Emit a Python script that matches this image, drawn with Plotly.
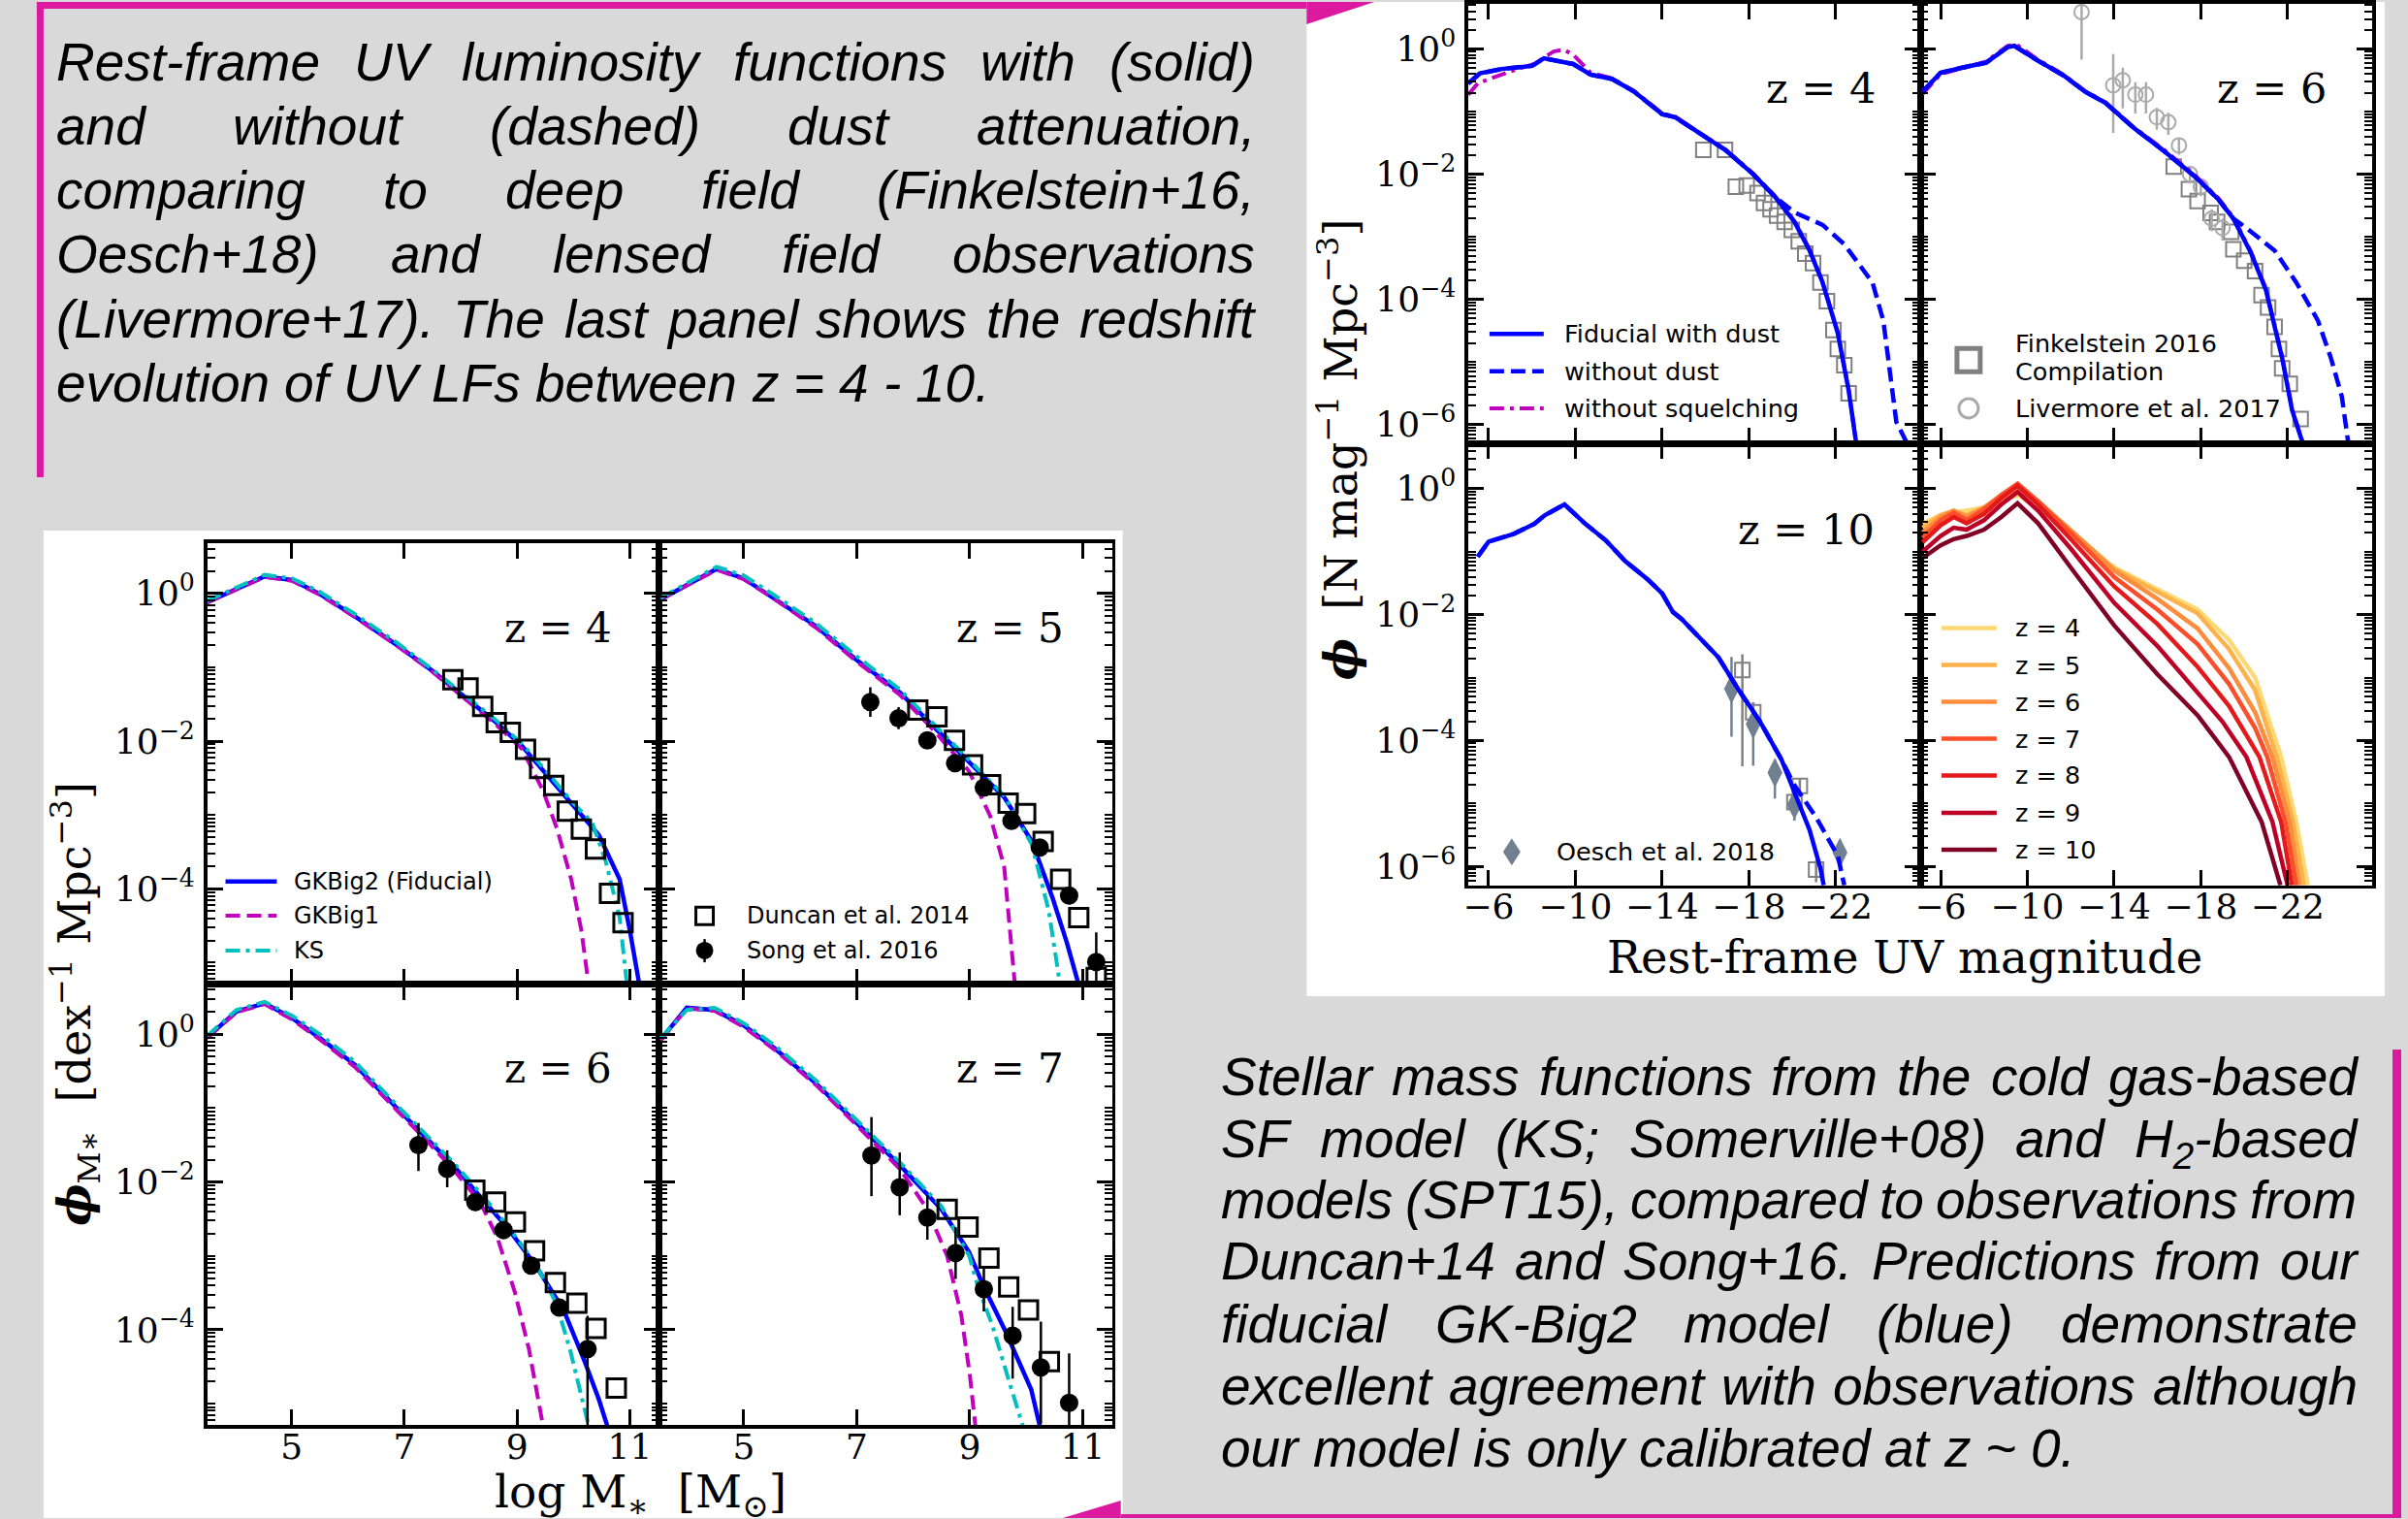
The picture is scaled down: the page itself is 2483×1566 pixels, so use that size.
import numpy as np
import plotly.graph_objects as go

W, H = 2483, 1566

# ---------------- UV luminosity functions (log10 phi) ----------------
uv4_fid_mag = [-5.06, -5.6, -6.6, -8.0, -8.55, -9.9, -10.7, -11.7, -12.7, -14.0, -14.6, -15.9, -16.9,
               -18.2, -19.2, -20.1, -20.8, -21.4, -22.1, -22.6, -22.95]
uv4_fid_log = [-0.55, -0.39, -0.32, -0.27, -0.15, -0.24, -0.41, -0.48, -0.68, -1.04, -1.09, -1.39, -1.61,
               -2.0, -2.36, -2.76, -3.22, -3.73, -4.54, -5.45, -6.3]
uv4_nodust_mag = [-5.06, -5.6, -6.6, -8.0, -8.55, -9.9, -10.7, -11.7, -12.7, -14.0, -14.6, -15.9, -16.9,
                  -18.2, -19.2, -20.1, -21.4, -22.4, -23.7, -24.2, -24.5, -24.8, -25.3]
uv4_nodust_log = [-0.55, -0.39, -0.32, -0.27, -0.15, -0.24, -0.41, -0.48, -0.68, -1.04, -1.09, -1.39, -1.61,
                  -2.0, -2.36, -2.61, -2.81, -3.12, -3.73, -4.34, -5.15, -5.96, -6.3]
uv4_nosq_mag = [-5.06, -5.5, -6.9, -8.1, -9.0, -9.45, -9.9, -10.7, -11.7, -12.7, -14.0, -14.6, -15.9,
                -16.9, -18.2, -19.2, -20.1, -20.8, -21.4, -22.1, -22.6, -22.95]
uv4_nosq_log = [-0.73, -0.55, -0.37, -0.24, -0.04, -0.01, -0.09, -0.38, -0.47, -0.67, -1.03, -1.08, -1.38,
                -1.6, -1.99, -2.35, -2.75, -3.2, -3.72, -4.52, -5.43, -6.3]
fink4_mag = [-15.9, -16.9, -17.4, -17.9, -18.4, -18.7, -19.0, -19.3, -19.65, -19.98, -20.3, -20.6,
             -20.96, -21.3, -21.6, -21.9, -22.1, -22.4, -22.6]
fink4_log = [-1.61, -1.61, -2.2, -2.18, -2.3, -2.46, -2.56, -2.66, -2.76, -2.89, -3.07, -3.27,
             -3.42, -3.73, -4.03, -4.49, -4.79, -5.05, -5.5]

uv6_fid_mag = [-5.17, -6.0, -7.1, -8.1, -9.1, -9.4, -10.4, -11.7, -12.65, -13.6, -14.9, -16.3, -17.7,
               -18.8, -19.5, -20.3, -21.0, -21.75, -22.2, -22.7]
uv6_fid_log = [-0.68, -0.38, -0.29, -0.22, 0.03, 0.05, -0.17, -0.43, -0.68, -0.86, -1.26, -1.63, -2.03,
               -2.4, -2.71, -3.25, -3.85, -4.94, -5.76, -6.3]
uv6_nodust_mag = [-5.17, -6.0, -7.1, -8.1, -9.1, -9.4, -10.4, -11.7, -12.65, -13.6, -14.9, -16.3, -17.7,
                  -18.8, -19.5, -20.1, -21.4, -22.4, -23.4, -24.0, -24.5, -24.8]
uv6_nodust_log = [-0.68, -0.38, -0.29, -0.22, 0.03, 0.05, -0.17, -0.43, -0.68, -0.86, -1.26, -1.63, -2.03,
                  -2.4, -2.71, -2.86, -3.22, -3.73, -4.34, -4.94, -5.55, -6.3]
uv6_nosq_mag = [-5.17, -6.0, -7.1, -8.1, -9.1, -9.5, -10.4, -11.7, -12.65, -13.6, -14.9, -16.3, -17.7,
                -18.8, -19.5, -20.3, -21.0, -21.75, -22.2, -22.7]
uv6_nosq_log = [-0.72, -0.4, -0.3, -0.2, 0.05, 0.07, -0.15, -0.42, -0.67, -0.85, -1.25, -1.61, -2.01,
                -2.38, -2.69, -3.23, -3.83, -4.92, -5.74, -6.3]
fink6_mag = [-16.75, -17.45, -17.85, -18.45, -18.75, -19.4, -19.5, -20.0, -20.5, -20.8, -21.1, -21.4,
             -21.6, -21.75, -22.1, -22.6]
fink6_log = [-1.88, -2.24, -2.43, -2.62, -2.76, -2.92, -3.2, -3.38, -3.55, -3.93, -4.13, -4.44,
             -4.79, -5.1, -5.35, -5.91]
liv6_mag = [-12.5, -13.96, -14.4, -14.98, -15.47, -15.97, -16.5, -16.99, -17.5, -18.0, -18.5, -19.0]
liv6_log = [0.59, -0.58, -0.50, -0.73, -0.73, -1.09, -1.17, -1.54, -2.0, -2.2, -2.71, -2.86]
liv6_up = [0.15, 0.5, 0.2, 0.2, 0.2, 0.15, 0.15, 0.12, 0.12, 0.12, 0.15, 0.15]
liv6_dn = [0.76, 0.76, 0.45, 0.3, 0.3, 0.2, 0.2, 0.15, 0.15, 0.15, 0.2, 0.2]

uv10_fid_mag = [-5.5, -6.0, -7.14, -8.1, -8.6, -9.5, -10.4, -11.4, -12.3, -13.3, -14.0, -14.5, -14.9,
                -15.6, -16.6, -17.5, -18.5, -19.5, -20.1, -20.8, -21.3, -21.45]
uv10_fid_log = [-1.08, -0.84, -0.72, -0.56, -0.42, -0.25, -0.54, -0.82, -1.15, -1.43, -1.66, -1.96, -2.07,
                -2.32, -2.68, -3.18, -3.69, -4.30, -4.81, -5.42, -6.03, -6.3]
uv10_nodust_mag = [-5.5, -6.0, -7.14, -8.1, -8.6, -9.5, -10.4, -11.4, -12.3, -13.3, -14.0, -14.5, -14.9,
                   -15.6, -16.6, -17.5, -18.5, -19.5, -20.1, -21.1, -22.1, -22.4]
uv10_nodust_log = [-1.08, -0.84, -0.72, -0.56, -0.42, -0.25, -0.54, -0.82, -1.15, -1.43, -1.66, -1.96, -2.07,
                   -2.32, -2.68, -3.18, -3.69, -4.30, -4.71, -5.22, -5.83, -6.3]
oesch_mag = [-17.2, -18.2, -19.2, -20.1, -22.2]
oesch_log = [-3.18, -3.74, -4.51, -5.02, -5.78]
oesch_up = [0.51, 0.35, 0.2, 0.25, 0.0]
oesch_dn = [0.76, 0.66, 0.41, 0.25, 0.0]
fink10_mag = [-17.7, -18.2, -20.1, -20.35, -21.1]
fink10_log = [-2.88, -3.55, -4.98, -4.72, -6.05]
fink10_up = [0.25, 0.15, 0.12, 0.12, 0.15]
fink10_dn = [1.53, 0.3, 0.15, 0.15, 0.2]

# redshift evolution panel
evo_mag = [-5.17, -6.0, -6.6, -7.2, -8.0, -8.8, -9.55, -10.5, -12.0, -14.0, -16.0, -17.85]
evo_z4 = [-0.55, -0.42, -0.38, -0.35, -0.3, -0.2, -0.1, -0.3, -0.72, -1.25, -1.6, -1.92]
evo_z5 = [-0.62, -0.42, -0.35, -0.42, -0.3, -0.15, 0.0, -0.22, -0.66, -1.27, -1.63, -1.98]
evo_z6 = [-0.7, -0.45, -0.35, -0.45, -0.3, -0.1, 0.05, -0.2, -0.66, -1.30, -1.75, -2.22]
evo_z7 = [-0.78, -0.5, -0.38, -0.5, -0.33, -0.1, 0.08, -0.2, -0.7, -1.40, -1.92, -2.47]
evo_z8 = [-0.85, -0.58, -0.45, -0.55, -0.4, -0.15, 0.05, -0.25, -0.8, -1.55, -2.15, -2.83]
evo_z9 = [-1.0, -0.75, -0.62, -0.65, -0.5, -0.25, -0.05, -0.35, -0.95, -1.81, -2.5, -3.23]
evo_z10 = [-1.1, -0.9, -0.8, -0.75, -0.65, -0.45, -0.23, -0.55, -1.25, -2.17, -2.95, -3.6]
evo_tail_mag = {4: [-19.3, -20.5, -21.7, -22.4, -22.93], 5: [-19.3, -20.5, -21.5, -22.25, -22.75],
                6: [-19.3, -20.5, -21.3, -22.1, -22.55], 7: [-19.3, -20.5, -21.06, -21.9, -22.4],
                8: [-19.3, -20.7, -21.7, -22.2], 9: [-19.0, -20.1, -21.3, -22.0], 10: [-19.3, -20.8, -21.67]}
evo_tail_log = {4: [-2.4, -3.0, -4.26, -5.29, -6.3], 5: [-2.55, -3.2, -4.26, -5.29, -6.3],
                6: [-2.85, -3.55, -4.26, -5.29, -6.3], 7: [-3.1, -3.8, -4.26, -5.29, -6.3],
                8: [-3.45, -4.26, -5.29, -6.3], 9: [-3.7, -4.26, -5.29, -6.3], 10: [-4.26, -5.29, -6.3]}
evo_labels = ["z = 4", "z = 5", "z = 6", "z = 7", "z = 8", "z = 9", "z = 10"]
evo_colors = ["#fed976", "#feb24c", "#fd8d3c", "#fc4e2a", "#e31a1c", "#bd0026", "#800026"]

# ---------------- Stellar mass functions (log10 phi) ----------------
smf4_gk2_x = [3.5, 4.52, 5.01, 5.5, 6.12, 6.87, 7.48, 8.1, 8.6, 9.09, 9.59, 9.96, 10.45, 10.82, 11.0, 11.17]
smf4_gk2 = [-0.12, 0.23, 0.18, -0.01, -0.31, -0.70, -1.04, -1.43, -1.73, -2.07, -2.5, -2.84, -3.27, -3.87, -4.56, -5.3]
smf4_gk1_x = [3.5, 4.52, 5.01, 5.5, 6.12, 6.87, 7.48, 8.1, 8.6, 9.09, 9.46, 9.71, 9.96, 10.14, 10.27]
smf4_gk1 = [-0.12, 0.22, 0.17, -0.02, -0.32, -0.71, -1.05, -1.45, -1.76, -2.11, -2.67, -3.19, -3.87, -4.56, -5.3]
smf4_ks_x = [3.5, 4.52, 5.01, 5.5, 6.12, 6.87, 7.48, 8.1, 8.6, 9.09, 9.59, 9.96, 10.33, 10.57, 10.82, 10.95]
smf4_ks = [-0.1, 0.25, 0.2, 0.02, -0.28, -0.67, -1.02, -1.4, -1.7, -2.04, -2.47, -2.81, -3.1, -3.62, -4.39, -5.3]
dun4_x = [7.86, 8.13, 8.39, 8.63, 8.88, 9.15, 9.4, 9.65, 9.89, 10.14, 10.39, 10.64, 10.88]
dun4 = [-1.17, -1.28, -1.53, -1.75, -1.88, -2.11, -2.37, -2.6, -2.95, -3.19, -3.46, -4.06, -4.46]

smf5_gk2_x = [3.53, 4.52, 5.0, 5.53, 6.27, 7.01, 7.76, 8.37, 8.99, 9.61, 10.1, 10.47, 10.72, 10.93]
smf5_gk2 = [-0.08, 0.33, 0.2, -0.06, -0.44, -0.91, -1.34, -1.81, -2.29, -2.76, -3.36, -4.13, -4.73, -5.3]
smf5_gk1_x = [3.53, 4.52, 5.0, 5.53, 6.27, 7.01, 7.76, 8.37, 8.99, 9.36, 9.61, 9.8]
smf5_gk1 = [-0.08, 0.32, 0.19, -0.07, -0.46, -0.93, -1.37, -1.86, -2.41, -3.01, -3.7, -5.3]
smf5_ks_x = [3.53, 4.52, 5.0, 5.53, 6.27, 7.01, 7.76, 8.37, 8.99, 9.61, 10.1, 10.4, 10.6]
smf5_ks = [-0.06, 0.36, 0.24, -0.02, -0.4, -0.86, -1.3, -1.77, -2.25, -2.74, -3.4, -4.3, -5.3]
dun5_x = [8.08, 8.42, 8.73, 9.05, 9.37, 9.68, 9.99, 10.3, 10.61, 10.93, 11.24]
dun5 = [-1.58, -1.67, -1.99, -2.32, -2.59, -2.84, -2.98, -3.36, -3.87, -4.39, -5.2]
song5_x = [7.24, 7.74, 8.25, 8.74, 9.25, 9.74, 10.24, 10.76, 11.24]
song5 = [-1.47, -1.69, -1.99, -2.30, -2.63, -3.08, -3.44, -4.09, -4.99]
song5_up = [0.2, 0.15, 0.1, 0.1, 0.08, 0.08, 0.1, 0.12, 0.4]
song5_dn = [0.2, 0.15, 0.1, 0.1, 0.08, 0.08, 0.1, 0.12, 0.35]

smf6_gk2_x = [3.5, 4.02, 4.52, 5.01, 5.5, 6.12, 6.87, 7.36, 7.86, 8.35, 8.84, 9.34, 9.83, 10.2, 10.45, 10.6]
smf6_gk2 = [-0.04, 0.31, 0.42, 0.22, -0.05, -0.41, -1.0, -1.38, -1.77, -2.2, -2.63, -3.14, -3.74, -4.43, -4.94, -5.3]
smf6_gk1_x = [3.5, 4.02, 4.52, 5.01, 5.5, 6.12, 6.87, 7.36, 7.86, 8.35, 8.65, 8.96, 9.21, 9.46]
smf6_gk1 = [-0.05, 0.3, 0.41, 0.2, -0.07, -0.44, -1.03, -1.41, -1.82, -2.28, -2.75, -3.49, -4.26, -5.3]
smf6_ks_x = [3.5, 4.02, 4.52, 5.01, 5.5, 6.12, 6.87, 7.36, 7.86, 8.35, 8.84, 9.34, 9.7, 9.95, 10.27]
smf6_ks = [-0.02, 0.33, 0.44, 0.25, 0.0, -0.37, -0.96, -1.34, -1.73, -2.15, -2.6, -3.12, -3.65, -4.3, -5.3]
dun6_x = [8.25, 8.62, 8.97, 9.31, 9.68, 10.06, 10.4, 10.76]
dun6 = [-2.11, -2.27, -2.54, -2.93, -3.36, -3.64, -3.98, -4.79]
song6_x = [7.25, 7.76, 8.26, 8.76, 9.25, 9.75, 10.25]
song6 = [-1.50, -1.82, -2.27, -2.65, -3.13, -3.7, -4.26]
song6_up = [0.3, 0.25, 0.12, 0.1, 0.1, 0.1, 0.45]
song6_dn = [0.35, 0.25, 0.12, 0.1, 0.1, 0.1, 1.1]

smf7_gk2_x = [3.53, 3.99, 4.48, 5.0, 5.53, 6.27, 7.01, 7.76, 8.5, 8.99, 9.25, 9.62, 9.91, 10.09, 10.24]
smf7_gk2 = [-0.07, 0.36, 0.33, 0.12, -0.18, -0.66, -1.21, -1.77, -2.37, -2.95, -3.42, -4.0, -4.5, -4.81, -5.3]
smf7_gk1_x = [3.53, 3.99, 4.48, 5.0, 5.53, 6.27, 7.01, 7.76, 8.25, 8.6, 8.85, 9.0, 9.1]
smf7_gk1 = [-0.08, 0.35, 0.32, 0.1, -0.2, -0.68, -1.24, -1.82, -2.37, -3.0, -3.8, -4.6, -5.3]
smf7_ks_x = [3.53, 3.99, 4.48, 5.0, 5.53, 6.27, 7.01, 7.76, 8.5, 8.99, 9.14, 9.4, 9.69, 9.94]
smf7_ks = [-0.05, 0.33, 0.36, 0.15, -0.14, -0.62, -1.17, -1.73, -2.33, -3.0, -3.4, -3.94, -4.68, -5.3]
dun7_x = [8.6, 8.97, 9.34, 9.69, 10.04, 10.41]
dun7 = [-2.37, -2.61, -3.03, -3.42, -3.73, -4.43]
song7_x = [7.26, 7.76, 8.25, 8.75, 9.25, 9.76, 10.26, 10.76]
song7 = [-1.64, -2.07, -2.48, -2.96, -3.45, -4.08, -4.51, -4.99]
song7_up = [0.52, 0.47, 0.3, 0.35, 0.3, 0.39, 0.62, 0.67]
song7_dn = [0.55, 0.38, 0.3, 0.35, 0.3, 0.58, 0.76, 0.3]

uv_xticks = [-6, -10, -14, -18, -22]
uv_xticktext = ["\u22126", "\u221210", "\u221214", "\u221218", "\u221222"]
smf_xticks = [5, 7, 9, 11]
smf_xticktext = ["5", "7", "9", "11"]
uv_yticks = [1, 1e-2, 1e-4, 1e-6]
uv_yticktext = ["10<sup>0</sup>", "10<sup>\u22122</sup>", "10<sup>\u22124</sup>", "10<sup>\u22126</sup>"]
smf_yticks = [1, 1e-2, 1e-4]
smf_yticktext = ["10<sup>0</sup>", "10<sup>\u22122</sup>", "10<sup>\u22124</sup>"]

text_top = ["Rest-frame UV luminosity functions with (solid)",
            "and without (dashed) dust attenuation,",
            "comparing to deep field (Finkelstein+16,",
            "Oesch+18) and lensed field observations",
            "(Livermore+17). The last panel shows the redshift",
            "evolution of UV LFs between z = 4 - 10."]
text_bottom = ["Stellar mass functions from the cold gas-based",
               "SF model (KS; Somerville+08) and H<sub>2</sub>-based",
               "models (SPT15), compared to observations from",
               "Duncan+14 and Song+16. Predictions from our",
               "fiducial GK-Big2 model (blue) demonstrate",
               "excellent agreement with observations although",
               "our model is only calibrated at z ~ 0."]

# ---------------- helpers ----------------
BLUE, MAGENTA, CYAN = "#0000ff", "#bf00bf", "#00bfbf"
PINK = "#dc1aa0"
SERIF = "DejaVu Serif"
SANS = "DejaVu Sans"

fig = go.Figure()


def X(p):
    return p / W


def Y(p):
    return 1 - p / H


def minor_vals(lo, hi):
    vals = []
    for e in range(lo, hi + 1):
        for k in range(1, 10):
            if k == 1 and e % 2 == 0:
                continue
            vals.append(k * 10.0 ** e)
    return vals


def setup_axes(n, xpx, ypx, xr, yr, xt, xtt, yt, ytt, showx, showy, mlo, mhi):
    key = "" if n == 1 else str(n)
    common = dict(ticks="inside", tickcolor="black", showline=True, linecolor="black", linewidth=3.5,
                  mirror="allticks", showgrid=False, zeroline=False,
                  tickfont=dict(family=SERIF, size=36, color="black"))
    xa = dict(domain=[X(xpx[0]), X(xpx[1])], range=xr, anchor="y" + key, tickmode="array",
              tickvals=xt, ticktext=xtt, showticklabels=showx, ticklen=16, tickwidth=3,
              ticklabelstandoff=-12, **common)
    ya = dict(domain=[Y(ypx[1]), Y(ypx[0])], type="log", range=yr, anchor="x" + key, tickmode="array",
              tickvals=yt, ticktext=ytt, showticklabels=showy, ticklen=16, tickwidth=3,
              ticklabelstandoff=2,
              minor=dict(ticks="inside", ticklen=8, tickwidth=2, tickcolor="black",
                         tickmode="array", tickvals=minor_vals(mlo, mhi)), **common)
    fig.update_layout(**{"xaxis" + key: xa, "yaxis" + key: ya})


def ax(n):
    return ("x", "y") if n == 1 else ("x%d" % n, "y%d" % n)


def line(n, xs, logs, color, width, dash="solid"):
    xa, ya = ax(n)
    fig.add_trace(go.Scatter(x=xs, y=10 ** np.array(logs, dtype=float), mode="lines",
                             line=dict(color=color, width=width, dash=dash),
                             xaxis=xa, yaxis=ya, showlegend=False, hoverinfo="skip"))


def points(n, xs, logs, symbol, size, color, lw, up=None, dn=None, ecolor=None, fill=None):
    xa, ya = ax(n)
    yv = 10 ** np.array(logs, dtype=float)
    err = None
    if up is not None:
        err = dict(type="data", symmetric=False,
                   array=yv * (10 ** np.array(up) - 1), arrayminus=yv * (1 - 10 ** (-np.array(dn))),
                   color=ecolor or color, thickness=2.5, width=0)
    fig.add_trace(go.Scatter(x=xs, y=yv, mode="markers", error_y=err,
                             marker=dict(symbol=symbol, size=size, color=fill or color,
                                         line=dict(width=lw, color=color)),
                             xaxis=xa, yaxis=ya, showlegend=False, hoverinfo="skip"))


def label(xp, yp, text, size, family=SANS, xanchor="left", angle=0, color="black"):
    fig.add_annotation(x=X(xp), y=Y(yp), xref="paper", yref="paper", text=text, showarrow=False,
                       xanchor=xanchor, yanchor="middle", textangle=angle,
                       font=dict(family=family, size=size, color=color))


def seg(x0, x1, y, color, width, dash="solid"):
    fig.add_shape(type="line", xref="paper", yref="paper", x0=X(x0), x1=X(x1), y0=Y(y), y1=Y(y),
                  line=dict(color=color, width=width, dash=dash))


def rect(x0, y0, x1, y1, fill, layer="below", linecolor=None, lw=0):
    fig.add_shape(type="rect", xref="paper", yref="paper", x0=X(x0), x1=X(x1), y0=Y(y1), y1=Y(y0),
                  fillcolor=fill, line=dict(width=lw, color=linecolor or fill), layer=layer)


def poly(pts, fill, layer="below"):
    d = "M " + " L ".join("%f,%f" % (X(a), Y(b)) for a, b in pts) + " Z"
    fig.add_shape(type="path", xref="paper", yref="paper", path=d, fillcolor=fill,
                  line=dict(width=0), layer=layer)


# ---------------- background & decoration ----------------
rect(1345, 0, 2459, 1027, "white")
rect(40, 546, 1155, 1566, "white")
rect(33, 0, 40, 491, PINK)
rect(33, 0, 1345, 7, PINK)
poly([(1345, 0), (1415, 0), (1345, 23)], PINK)
poly([(1093, 1566), (1153, 1566), (1153, 1548)], PINK)
rect(1153, 1562, 2476, 1566, PINK)
rect(2467, 1082, 2476, 1566, PINK)

# ---------------- axes ----------------
UVX = [-5.06, -25.9]
UVY = [-6.3, 0.72]
SMX = [3.5, 11.52]
SMY = [-5.29, 0.68]
setup_axes(1, (1512, 1979), (2, 456), UVX, UVY, uv_xticks, uv_xticktext, uv_yticks, uv_yticktext, False, True, -7, 0)
setup_axes(2, (1979, 2446), (2, 456), UVX, UVY, uv_xticks, uv_xticktext, uv_yticks, uv_yticktext, False, False, -7, 0)
setup_axes(3, (1512, 1979), (456, 912.5), UVX, UVY, uv_xticks, uv_xticktext, uv_yticks, uv_yticktext, True, True, -7, 0)
setup_axes(4, (1979, 2446), (456, 912.5), UVX, UVY, uv_xticks, uv_xticktext, uv_yticks, uv_yticktext, True, False, -7, 0)
setup_axes(5, (209, 676), (559, 1014.5), SMX, SMY, smf_xticks, smf_xticktext, smf_yticks, smf_yticktext, False, True, -6, 0)
setup_axes(6, (676, 1144), (559, 1014.5), SMX, SMY, smf_xticks, smf_xticktext, smf_yticks, smf_yticktext, False, False, -6, 0)
setup_axes(7, (209, 676), (1014.5, 1470), SMX, SMY, smf_xticks, smf_xticktext, smf_yticks, smf_yticktext, True, True, -6, 0)
setup_axes(8, (676, 1144), (1014.5, 1470), SMX, SMY, smf_xticks, smf_xticktext, smf_yticks, smf_yticktext, True, False, -6, 0)

DASH = "15px,7px"
DASHDOT = "15px,6px,4px,6px"

# UV z=4
points(1, fink4_mag, fink4_log, "square-open", 15, "#808080", 2)
line(1, uv4_nosq_mag, uv4_nosq_log, MAGENTA, 4, DASHDOT)
line(1, uv4_nodust_mag, uv4_nodust_log, BLUE, 4.5, DASH)
line(1, uv4_fid_mag, uv4_fid_log, BLUE, 4.5)
# UV z=6
points(2, fink6_mag, fink6_log, "square-open", 15, "#808080", 2)
points(2, liv6_mag, liv6_log, "circle-open", 15, "#aaaaaa", 2, liv6_up, liv6_dn)
line(2, uv6_nosq_mag, uv6_nosq_log, MAGENTA, 4, DASHDOT)
line(2, uv6_nodust_mag, uv6_nodust_log, BLUE, 4.5, DASH)
line(2, uv6_fid_mag, uv6_fid_log, BLUE, 4.5)
# UV z=10
points(3, fink10_mag, fink10_log, "square-open", 15, "#808080", 2, fink10_up, fink10_dn)
points(3, oesch_mag, oesch_log, "diamond-tall", 22, "#708090", 0, oesch_up, oesch_dn, fill="#708090")
line(3, uv10_nodust_mag, uv10_nodust_log, BLUE, 4.5, DASH)
line(3, uv10_fid_mag, uv10_fid_log, BLUE, 4.5)
# UV evolution
evo_sets = [evo_z4, evo_z5, evo_z6, evo_z7, evo_z8, evo_z9, evo_z10]
for i, zz in enumerate([4, 5, 6, 7, 8, 9, 10]):
    line(4, evo_mag + evo_tail_mag[zz], evo_sets[i] + evo_tail_log[zz], evo_colors[i], 4.5)

# SMF panels
smf = [
    (5, smf4_gk2_x, smf4_gk2, smf4_gk1_x, smf4_gk1, smf4_ks_x, smf4_ks, dun4_x, dun4, None),
    (6, smf5_gk2_x, smf5_gk2, smf5_gk1_x, smf5_gk1, smf5_ks_x, smf5_ks, dun5_x, dun5,
     (song5_x, song5, song5_up, song5_dn)),
    (7, smf6_gk2_x, smf6_gk2, smf6_gk1_x, smf6_gk1, smf6_ks_x, smf6_ks, dun6_x, dun6,
     (song6_x, song6, song6_up, song6_dn)),
    (8, smf7_gk2_x, smf7_gk2, smf7_gk1_x, smf7_gk1, smf7_ks_x, smf7_ks, dun7_x, dun7,
     (song7_x, song7, song7_up, song7_dn)),
]
for n, gx, gy, g1x, g1y, kx, ky, dx, dy, song in smf:
    line(n, gx, gy, BLUE, 4.5)
    line(n, g1x, g1y, MAGENTA, 4, DASH)
    line(n, kx, ky, CYAN, 4, DASHDOT)
    points(n, dx, dy, "square-open", 19, "black", 3)
    if song is not None:
        points(n, song[0], song[1], "circle", 19, "black", 0, song[2], song[3], ecolor="black", fill="black")

# ---------------- panel labels ----------------
label(1876, 89, "z = 4", 43, SERIF, "center")
label(2342, 89, "z = 6", 43, SERIF, "center")
label(1861, 545, "z = 10", 43, SERIF, "center")
label(572, 647, "z = 4", 42, SERIF, "center")
label(1039, 647, "z = 5", 42, SERIF, "center")
label(572, 1102, "z = 6", 42, SERIF, "center")
label(1039, 1102, "z = 7", 42, SERIF, "center")

# axis titles
label(1378, 462, "<b><i>\u03d5</i></b>  [N mag<sup>\u22121</sup> Mpc<sup>\u22123</sup>]", 46, SERIF, "center", -90)
label(1963, 987, "Rest-frame UV magnitude", 46.5, SERIF, "center")
label(72, 1035, "<b><i>\u03d5</i></b><sub>M\u2217</sub>  [dex<sup>\u22121</sup> Mpc<sup>\u22123</sup>]", 46, SERIF, "center", -90)
label(657, 1542, "log M<sub>\u2217</sub>  [M<sub>\u2299</sub>]", 47, SERIF, "center")

# ---------------- legends ----------------
UVF = 25.5
seg(1534, 1590, 343, BLUE, 4.5)
seg(1534, 1590, 381.5, BLUE, 4.5, DASH)
seg(1534, 1590, 419.7, MAGENTA, 4, DASHDOT)
label(1609, 343, "Fiducial with dust", UVF)
label(1609, 381.5, "without dust", UVF)
label(1609, 419.7, "without squelching", UVF)

rect(2017, 358, 2041, 382, "rgba(0,0,0,0)", "above", "#808080", 5)
fig.add_shape(type="circle", xref="paper", yref="paper", x0=X(2019), x1=X(2039), y0=Y(429.7), y1=Y(409.7),
              line=dict(color="#aaaaaa", width=3))
label(2075, 353, "Finkelstein 2016", UVF)
label(2075, 381.6, "Compilation", UVF)
label(2075, 419.7, "Livermore et al. 2017", UVF)

poly([(1557, 864), (1566, 878), (1557, 892), (1548, 878)], "#708090", "above")
label(1601, 878, "Oesch et al. 2018", UVF)

evo_rows = [646.7, 684.9, 723, 761, 799, 837.5, 875.7]
for i in range(7):
    seg(2001, 2058, evo_rows[i], evo_colors[i], 4.5)
    label(2075, evo_rows[i], evo_labels[i], UVF)

SMF_F = 24
seg(228, 281, 908.5, BLUE, 4.5)
seg(228, 281, 943.8, MAGENTA, 4, DASH)
seg(228, 281, 979.8, CYAN, 4, DASHDOT)
label(297, 908.5, "GKBig2 (Fiducial)", SMF_F)
label(297, 943.8, "GKBig1", SMF_F)
label(297, 979.8, "KS", SMF_F)

rect(714, 935, 732, 953, "rgba(0,0,0,0)", "above", "black", 3)
fig.add_shape(type="line", xref="paper", yref="paper", x0=X(723), x1=X(723), y0=Y(968), y1=Y(992),
              line=dict(color="black", width=2.5))
fig.add_shape(type="circle", xref="paper", yref="paper", x0=X(714), x1=X(732), y0=Y(988.8), y1=Y(970.8),
              fillcolor="black", line=dict(color="black", width=0))
label(765, 943.8, "Duncan et al. 2014", SMF_F)
label(765, 979.8, "Song et al. 2016", SMF_F)

# ---------------- justified caption text ----------------
ARIAL = {' ': 278, '(': 333, ')': 333, '+': 584, ',': 278, '-': 333, '.': 278, ':': 278, ';': 278,
         '=': 584, '~': 584, 'A': 667, 'B': 667, 'C': 722, 'D': 722, 'E': 667, 'F': 611, 'G': 778,
         'H': 722, 'I': 278, 'J': 500, 'K': 667, 'L': 556, 'M': 833, 'N': 722, 'O': 778, 'P': 667,
         'Q': 778, 'R': 722, 'S': 667, 'T': 611, 'U': 722, 'V': 667, 'W': 944, 'X': 667, 'Y': 667,
         'Z': 611, 'a': 556, 'b': 556, 'c': 500, 'd': 556, 'e': 556, 'f': 278, 'g': 556, 'h': 556,
         'i': 222, 'j': 222, 'k': 500, 'l': 222, 'm': 833, 'n': 556, 'o': 556, 'p': 556, 'q': 556,
         'r': 333, 's': 500, 't': 278, 'u': 556, 'v': 500, 'w': 722, 'x': 500, 'y': 500, 'z': 500}


def text_width(s, size):
    w, scale, i = 0.0, 1.0, 0
    while i < len(s):
        if s.startswith("<sub>", i):
            scale, i = 0.7, i + 5
            continue
        if s.startswith("</sub>", i):
            scale, i = 1.0, i + 6
            continue
        w += ARIAL.get(s[i], 556) * scale
        i += 1
    return w / 1000.0 * size


def paragraph(lines, left, right, baselines, size):
    for li, (ln, base) in enumerate(zip(lines, baselines)):
        words = ln.split(" ")
        widths = [text_width(w, size) for w in words]
        if li == len(lines) - 1:
            gap = text_width(" ", size)
        else:
            gap = (right - left - sum(widths)) / (len(words) - 1)
        xcur = left
        for wd, ww in zip(words, widths):
            fig.add_annotation(x=X(xcur), y=Y(base - 0.905 * size), xref="paper", yref="paper",
                               text=wd, showarrow=False, xanchor="left", yanchor="top", borderpad=0,
                               font=dict(family="Liberation Sans", size=size, color="black", style="italic"))
            xcur += ww + gap


paragraph(text_top, 52, 1290, [80, 146, 212, 278, 345, 411], 55)
paragraph(text_bottom, 1256, 2429, [1128, 1192, 1255, 1318, 1383, 1447, 1512], 55)

fig.update_layout(width=W, height=H, margin=dict(l=0, r=0, t=0, b=0),
                  paper_bgcolor="#d9d9d9", plot_bgcolor="white", showlegend=False)
fig.write_html("out.html", config={"displayModeBar": False, "staticPlot": True})

with open("out.html", "r", encoding="utf-8") as fh:
    html = fh.read()
html = html.replace("<head>", "<head><style>html,body{margin:0;padding:0;overflow:hidden;}</style>", 1)
with open("out.html", "w", encoding="utf-8") as fh:
    fh.write(html)
